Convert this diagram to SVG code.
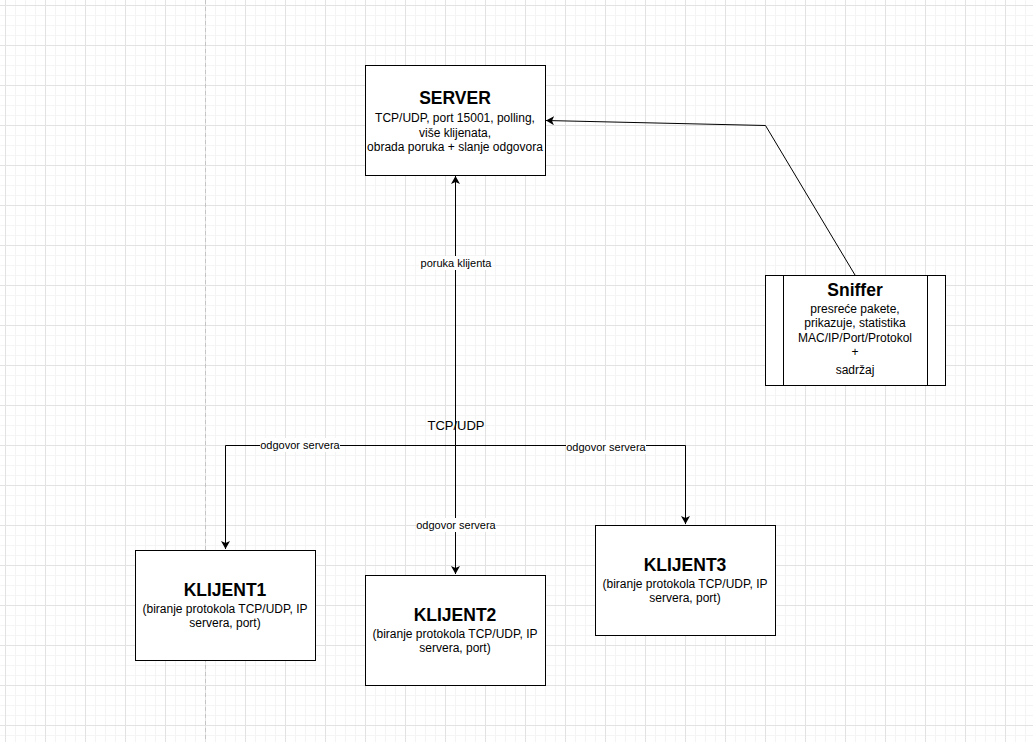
<svg xmlns="http://www.w3.org/2000/svg" width="1033" height="742" viewBox="0 0 1033 742">
<defs>
<pattern id="grid" patternUnits="userSpaceOnUse" x="5" y="5" width="40" height="40">
<path d="M10.5,0V40M20.5,0V40M30.5,0V40M0,10.5H40M0,20.5H40M0,30.5H40" stroke="#f4f4f4" stroke-width="1" fill="none"/>
<path d="M0.5,0V40M0,0.5H40" stroke="#e2e2e2" stroke-width="1" fill="none"/>
</pattern>
<marker id="arr" markerUnits="userSpaceOnUse" markerWidth="8" markerHeight="9" viewBox="0 0 8 9" refX="8" refY="4.5" orient="auto">
<path d="M0,0 L8,4.5 L0,9 L2,4.5 z" fill="#000"/>
</marker>
</defs>
<style>
.box{fill:#fff;stroke:#000;stroke-width:1}
.title{font-family:"Liberation Sans",Arial,sans-serif;font-weight:bold;font-size:17.5px;text-anchor:middle;fill:#000}
.body{font-family:"Liberation Sans",Arial,sans-serif;font-size:12px;text-anchor:middle;fill:#000}
.lbl{font-family:"Liberation Sans",Arial,sans-serif;font-size:11px;text-anchor:middle;fill:#000}
.edge{fill:none;stroke:#000;stroke-width:1}
</style>
<rect width="1033" height="742" fill="#fff"/>
<rect width="1033" height="742" fill="url(#grid)"/>
<line x1="205.5" y1="0" x2="205.5" y2="742" stroke="#c4c4c4" stroke-width="1" stroke-dasharray="4 3"/>

<g id="connectors">
<path class="edge" d="M455.5,445.5 V176" marker-end="url(#arr)"/>
<path class="edge" d="M455.5,445.5 V574" marker-end="url(#arr)"/>
<path class="edge" d="M455.5,445.5 H225.5 V549" marker-end="url(#arr)"/>
<path class="edge" d="M455.5,445.5 H685.5 V524" marker-end="url(#arr)"/>
<path class="edge" d="M855,275 L765.5,125.5 L546,120.5" marker-end="url(#arr)"/>
<rect x="419" y="256" width="73" height="14" fill="#fff"/>
<text class="lbl" x="456" y="267">poruka klijenta</text>
<text x="456" y="430" font-family="Liberation Sans,Arial,sans-serif" font-size="13" text-anchor="middle">TCP/UDP</text>
<rect x="260" y="438" width="80" height="14" fill="#fff"/>
<text class="lbl" x="300" y="449">odgovor servera</text>
<rect x="566" y="440" width="80" height="14" fill="#fff"/>
<text class="lbl" x="606" y="451">odgovor servera</text>
<rect x="416" y="518" width="80" height="14" fill="#fff"/>
<text class="lbl" x="456" y="529">odgovor servera</text>
</g>

<g id="server">
<rect class="box" x="365.5" y="65.5" width="180" height="110"/>
<text class="title" x="455" y="104">SERVER</text>
<text class="body" x="455" y="122">TCP/UDP, port 15001, polling,</text>
<text class="body" x="455" y="137">više klijenata,</text>
<text class="body" x="455" y="151">obrada poruka + slanje odgovora</text>
</g>

<g id="sniffer">
<rect class="box" x="765.5" y="275.5" width="180" height="110"/>
<line x1="783.5" y1="275.5" x2="783.5" y2="385.5" stroke="#000"/>
<line x1="927.5" y1="275.5" x2="927.5" y2="385.5" stroke="#000"/>
<text class="title" x="855" y="296">Sniffer</text>
<text class="body" x="855" y="313">presreće pakete,</text>
<text class="body" x="855" y="327">prikazuje, statistika</text>
<text class="body" x="855" y="342">MAC/IP/Port/Protokol</text>
<text class="body" x="855" y="356">+</text>
<text class="body" x="855" y="374">sadržaj</text>
</g>

<g id="klijent1">
<rect class="box" x="135.5" y="550.5" width="180" height="110"/>
<text class="title" x="225" y="596">KLIJENT1</text>
<text class="body" x="225" y="613">(biranje protokola TCP/UDP, IP</text>
<text class="body" x="225" y="627">servera, port)</text>
</g>

<g id="klijent2">
<rect class="box" x="365.5" y="575.5" width="180" height="110"/>
<text class="title" x="455" y="621">KLIJENT2</text>
<text class="body" x="455" y="638">(biranje protokola TCP/UDP, IP</text>
<text class="body" x="455" y="652">servera, port)</text>
</g>

<g id="klijent3">
<rect class="box" x="595.5" y="525.5" width="180" height="110"/>
<text class="title" x="685" y="571">KLIJENT3</text>
<text class="body" x="685" y="588">(biranje protokola TCP/UDP, IP</text>
<text class="body" x="685" y="602">servera, port)</text>
</g>
</svg>
